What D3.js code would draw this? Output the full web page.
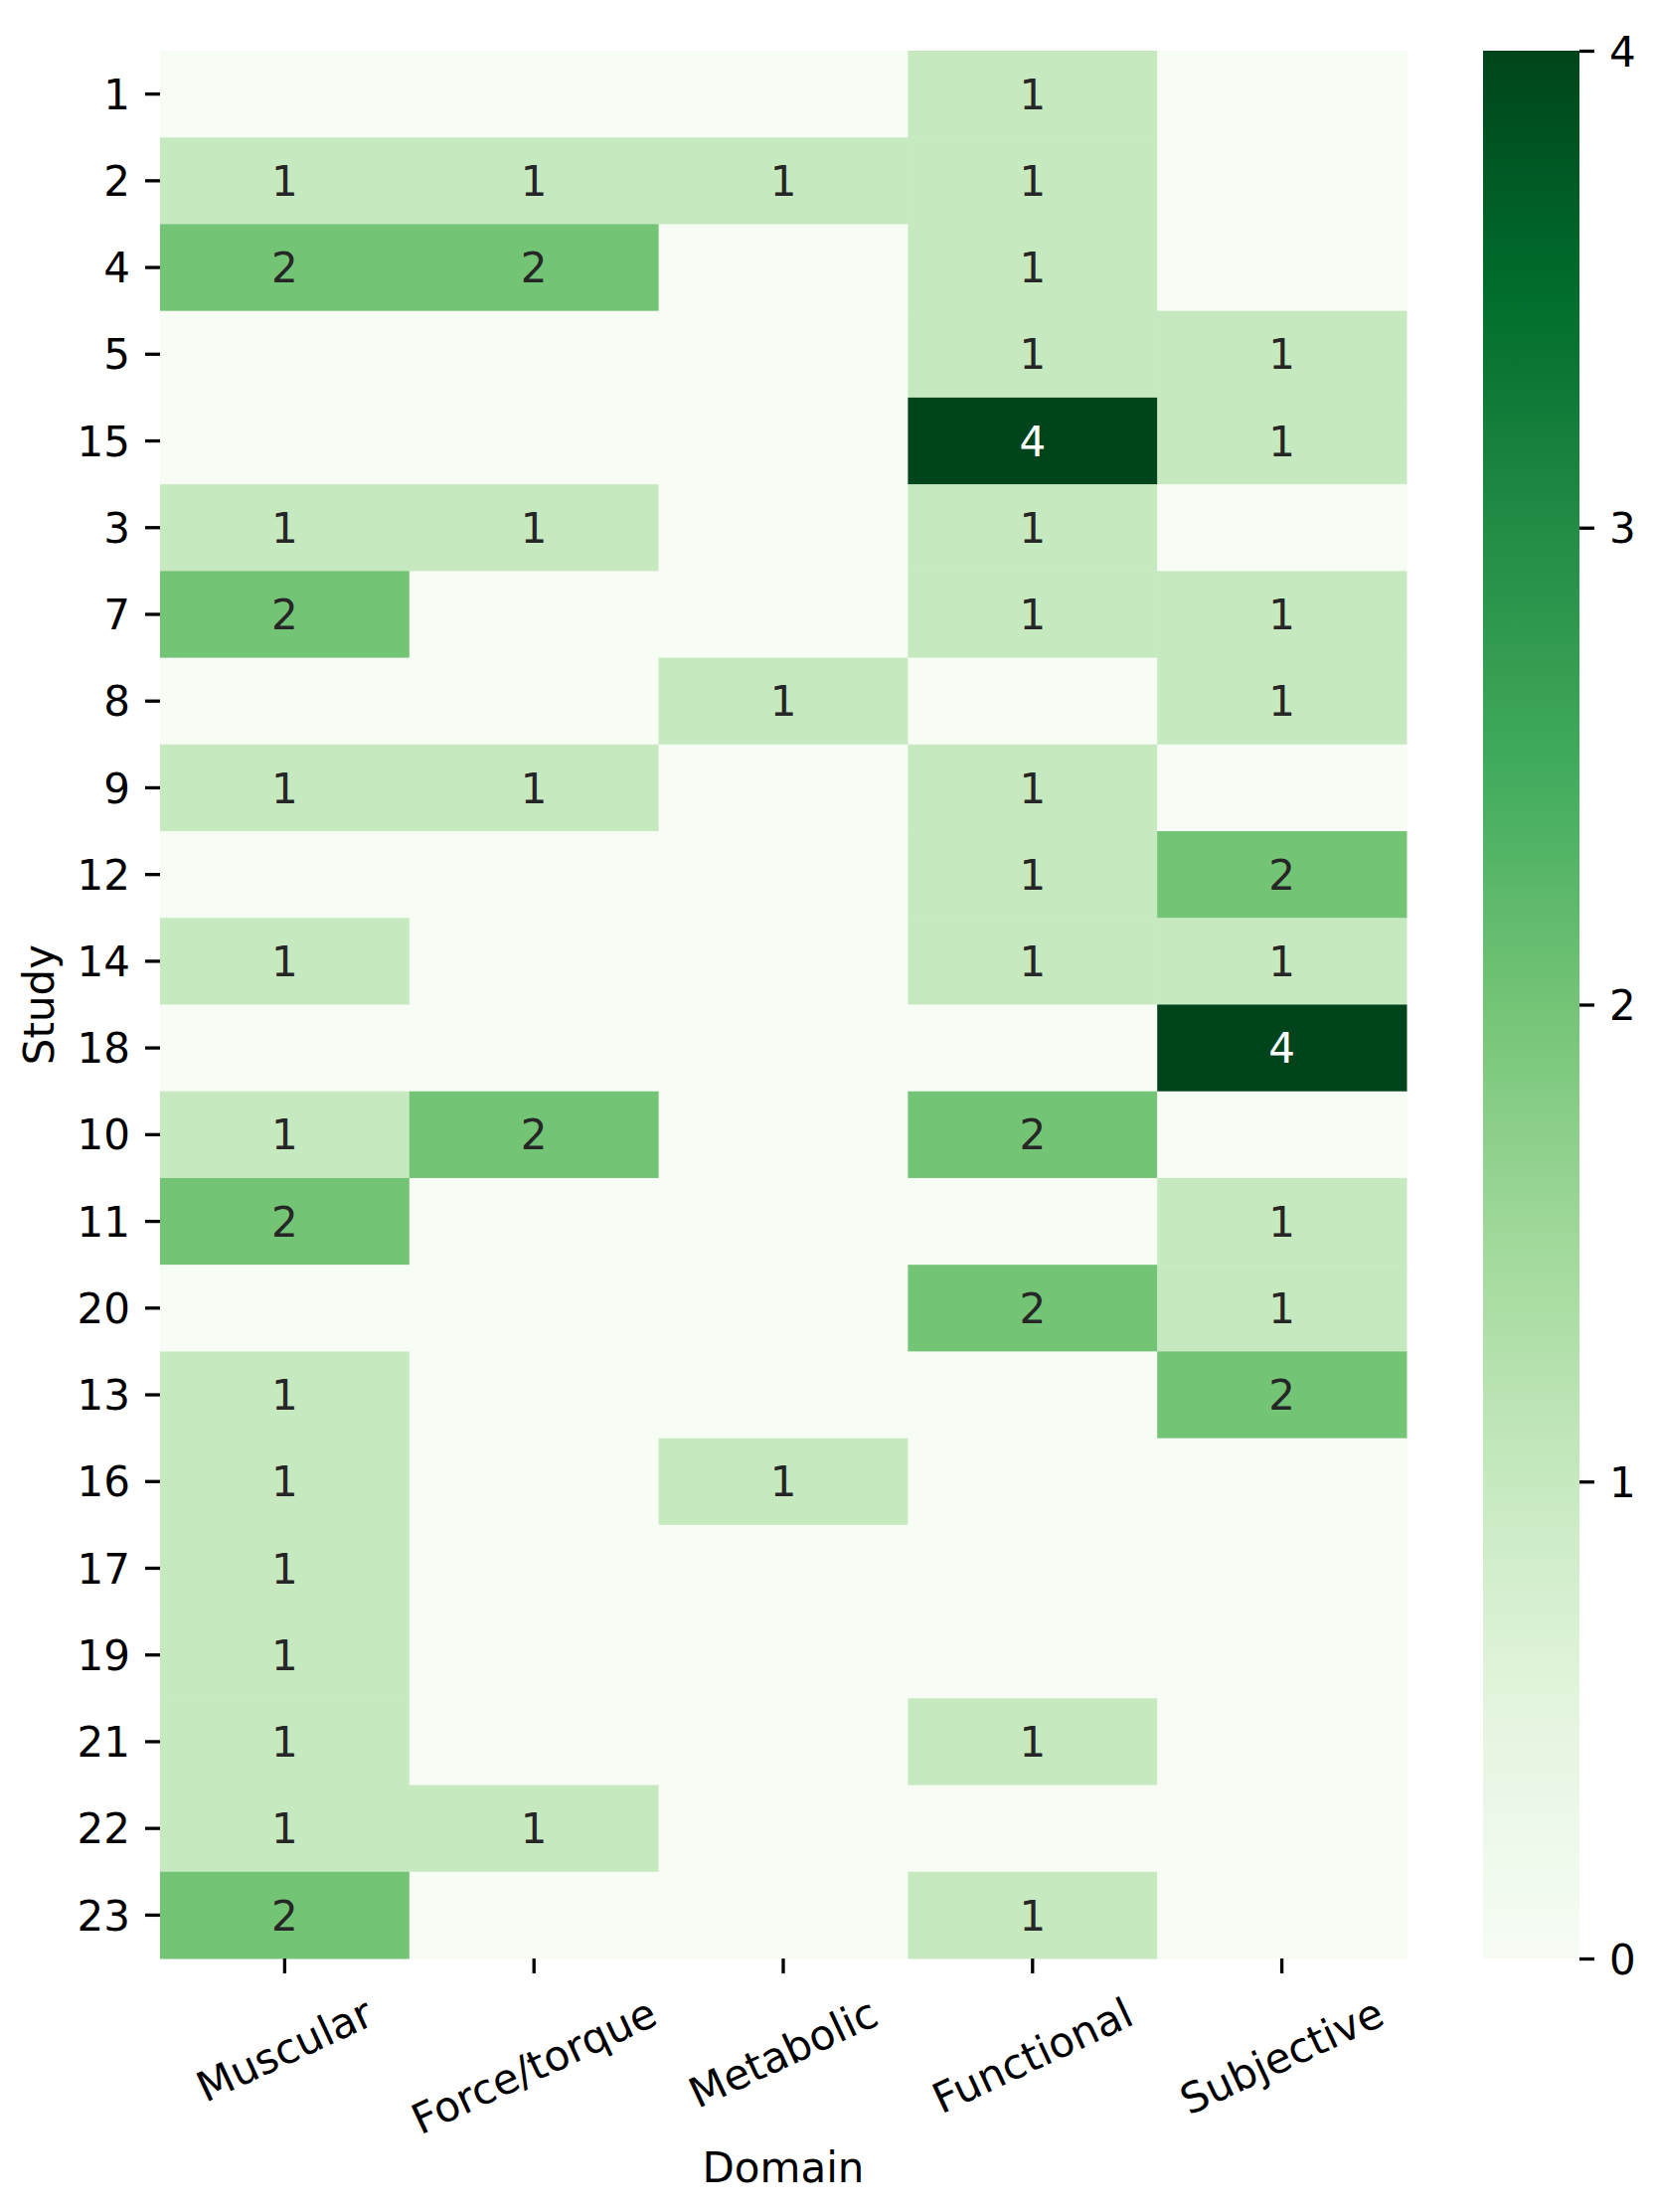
<!DOCTYPE html>
<html>
<head>
<meta charset="utf-8">
<script src="https://cdn.jsdelivr.net/npm/d3@7"></script>
<style>
  html, body { margin: 0; padding: 0; background: #fff; }
  svg { display: block; }
  text { font-family: "DejaVu Sans", sans-serif; }
</style>
</head>
<body>
<svg id="chart" width="1665" height="2225"></svg>
<script>
// ---- data ----
const studies = ["1","2","4","5","15","3","7","8","9","12","14","18","10","11","20","13","16","17","19","21","22","23"];
const domains = ["Muscular","Force/torque","Metabolic","Functional","Subjective"];
const muscular    = [0,1,2,0,0,1,2,0,1,0,1,0,1,2,0,1,1,1,1,1,1,2];
const forceTorque = [0,1,2,0,0,1,0,0,1,0,0,0,2,0,0,0,0,0,0,0,1,0];
const metabolic   = [0,1,0,0,0,0,0,1,0,0,0,0,0,0,0,0,1,0,0,0,0,0];
const functional  = [1,1,1,1,4,1,1,0,1,1,1,0,2,0,2,0,0,0,0,1,0,1];
const subjective  = [0,0,0,1,1,0,1,1,0,2,1,4,0,1,1,2,0,0,0,0,0,0];
const colorbarTicks = [0,1,2,3,4];
const greens = ["#f7fcf5","#e5f5e0","#c7e9c0","#a1d99b","#74c476","#41ab5d","#238b45","#006d2c","#00441b"];

const series = [muscular, forceTorque, metabolic, functional, subjective];
const cells = [];
studies.forEach((s, i) => domains.forEach((d, j) => cells.push({study: s, domain: d, value: series[j][i]})));

// ---- layout ----
const svg = d3.select("#chart");
const X0 = 161, X1 = 1415, Y0 = 51, Y1 = 1970;
const CB0 = 1492, CB1 = 1589;
const FS = 42;
const TICK = 15, PAD = 15;

const x = d3.scaleBand().domain(domains).range([X0, X1]).padding(0);
const y = d3.scaleBand().domain(studies).range([Y0, Y1]).padding(0);
const vmin = 0, vmax = 4;
const color = d3.scaleLinear()
  .domain(greens.map((_, k) => vmin + (vmax - vmin) * k / (greens.length - 1)))
  .range(greens)
  .interpolate(d3.interpolateRgb)
  .clamp(true);

// cells
svg.append("g").selectAll("rect").data(cells).join("rect")
  .attr("x", d => x(d.domain))
  .attr("y", d => y(d.study))
  .attr("width", x.bandwidth() + 0.5)
  .attr("height", y.bandwidth() + 0.5)
  .attr("fill", d => color(d.value));

// annotations
svg.append("g").selectAll("text").data(cells.filter(d => d.value !== 0)).join("text")
  .attr("x", d => x(d.domain) + x.bandwidth() / 2)
  .attr("y", d => y(d.study) + y.bandwidth() / 2)
  .attr("text-anchor", "middle")
  .attr("dy", "0.36em")
  .attr("font-size", FS)
  .attr("fill", d => d.value >= 3 ? "#ffffff" : "#262626")
  .text(d => d3.format("d")(d.value));

// y axis
const yAxis = d3.axisLeft(y).tickSize(TICK).tickPadding(PAD);
const gy = svg.append("g").attr("transform", `translate(${X0},0)`).call(yAxis);
gy.select(".domain").remove();
gy.selectAll(".tick line").attr("stroke", "#000").attr("stroke-width", 3.3);
gy.selectAll(".tick text").attr("font-size", FS).attr("fill", "#000")
  .attr("font-family", "DejaVu Sans").attr("dy", "0.36em");

// x axis
const xAxis = d3.axisBottom(x).tickSize(TICK).tickPadding(PAD);
const gx = svg.append("g").attr("transform", `translate(0,${Y1})`).call(xAxis);
gx.select(".domain").remove();
gx.selectAll(".tick line").attr("stroke", "#000").attr("stroke-width", 3.3);
const ang = 25 * Math.PI / 180;
gx.selectAll(".tick text")
  .attr("font-size", FS).attr("fill", "#000").attr("font-family", "DejaVu Sans")
  .attr("text-anchor", "middle")
  .attr("dy", null)
  .each(function() {
    const t = d3.select(this);
    const w = this.getComputedTextLength();
    const h = FS * 1.17;
    const bboxH = w * Math.sin(ang) + h * Math.cos(ang);
    const cy = TICK + PAD + bboxH / 2;
    t.attr("y", 0).attr("x", 0)
     .attr("dominant-baseline", "central")
     .attr("transform", `translate(0,${cy}) rotate(-25)`);
  });

// axis labels
svg.append("text")
  .attr("x", (X0 + X1) / 2).attr("y", 2195)
  .attr("text-anchor", "middle").attr("font-size", FS).attr("fill", "#000")
  .text("Domain");
svg.append("text")
  .attr("transform", `translate(54,${(Y0 + Y1) / 2}) rotate(-90)`)
  .attr("text-anchor", "middle").attr("font-size", FS).attr("fill", "#000")
  .text("Study");

// colorbar
const defs = svg.append("defs");
const grad = defs.append("linearGradient").attr("id", "cbgrad")
  .attr("x1", "0").attr("y1", "1").attr("x2", "0").attr("y2", "0");
d3.range(0, 1.0001, 0.02).forEach(t => {
  grad.append("stop").attr("offset", t).attr("stop-color", color(vmin + t * (vmax - vmin)));
});
svg.append("rect")
  .attr("x", CB0).attr("y", Y0).attr("width", CB1 - CB0).attr("height", Y1 - Y0)
  .attr("fill", "url(#cbgrad)");
const cbScale = d3.scaleLinear().domain([vmin, vmax]).range([Y1, Y0]);
const gc = svg.append("g").attr("transform", `translate(${CB1},0)`)
  .call(d3.axisRight(cbScale).tickValues(colorbarTicks).tickFormat(d3.format("d")).tickSize(TICK).tickPadding(PAD));
gc.select(".domain").remove();
gc.selectAll(".tick line").attr("stroke", "#000").attr("stroke-width", 3.3);
gc.selectAll(".tick text").attr("font-size", FS).attr("fill", "#000")
  .attr("font-family", "DejaVu Sans").attr("dy", "0.36em");
</script>
</body>
</html>
